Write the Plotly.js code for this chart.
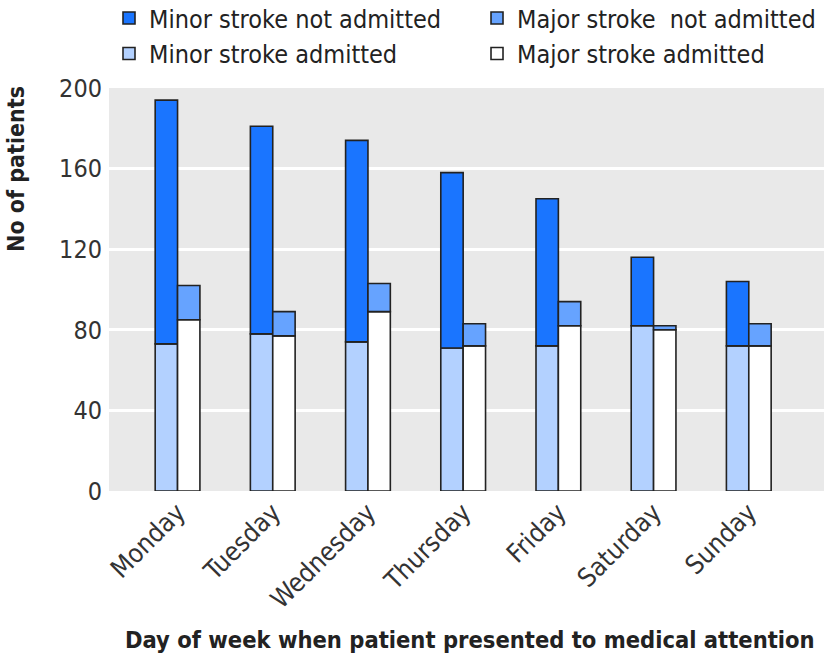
<!DOCTYPE html>
<html>
<head>
<meta charset="utf-8">
<script src="https://cdn.plot.ly/plotly-3.0.1.min.js"></script>
<style>html,body{margin:0;padding:0;background:#fff;}#chart{width:824px;height:660px;}</style>
</head>
<body>
<div id="chart"></div>
<script>
var days = ["Monday", "Tuesday", "Wednesday", "Thursday", "Friday", "Saturday", "Sunday"];
var minorAdmitted = [73, 78, 74, 71, 72, 82, 72];
var minorNotAdmitted = [121, 103, 100, 87, 73, 34, 32];
var majorAdmitted = [85, 77, 89, 72, 82, 80, 72];
var majorNotAdmitted = [17, 12, 14, 11, 12, 2, 11];
var yTicks = [0, 40, 80, 120, 160, 200];

var FONT = "'DejaVu Sans Condensed', 'Liberation Sans Narrow', 'Roboto Condensed', sans-serif";
var line = {color: "#222222", width: 1.6};

var traces = [
  {type: "bar", name: "Minor stroke admitted", x: days, y: minorAdmitted, offsetgroup: "minor",
   marker: {color: "#b3d1ff", line: line}, legend: "legend", legendrank: 2},
  {type: "bar", name: "Minor stroke not admitted", x: days, y: minorNotAdmitted, base: minorAdmitted, offsetgroup: "minor",
   marker: {color: "#1a75ff", line: line}, legend: "legend", legendrank: 1},
  {type: "bar", name: "Major stroke admitted", x: days, y: majorAdmitted, offsetgroup: "major",
   marker: {color: "#ffffff", line: line}, legend: "legend2", legendrank: 2},
  {type: "bar", name: "Major stroke  not admitted", x: days, y: majorNotAdmitted, base: majorAdmitted, offsetgroup: "major",
   marker: {color: "#66a3ff", line: line}, legend: "legend2", legendrank: 1}
];

var legendFont = {family: FONT, size: 25, color: "#222222"};

var layout = {
  width: 824, height: 660,
  margin: {l: 109, r: 0, t: 88, b: 169, autoexpand: false},
  paper_bgcolor: "#ffffff",
  plot_bgcolor: "#e9e9e9",
  font: {family: FONT, color: "#333333", size: 22},
  barmode: "group",
  bargap: 0.53,
  bargroupgap: 0,
  showlegend: true,
  legend: {
    orientation: "v", x: 0, xanchor: "left", y: 1.23, yanchor: "top",
    font: legendFont, bgcolor: "rgba(0,0,0,0)", traceorder: "normal"
  },
  legend2: {
    orientation: "v", x: 0.5147, xanchor: "left", y: 1.23, yanchor: "top",
    font: legendFont, bgcolor: "rgba(0,0,0,0)", traceorder: "normal"
  },
  xaxis: {
    range: [-0.72, 6.79], tickangle: -45, showgrid: false, zeroline: false, showline: false,
    ticks: "", tickfont: {family: FONT, size: 26, color: "#333333"}, fixedrange: true
  },
  yaxis: {
    range: [0, 200], tickvals: yTicks, ticktext: yTicks.map(String),
    showgrid: true, gridcolor: "#ffffff", gridwidth: 3, zeroline: false, showline: false,
    ticks: "", ticklabelstandoff: 6, tickfont: {family: FONT, size: 25, color: "#333333"}, fixedrange: true
  },
  annotations: [
    {text: "<b>No of patients</b>", xref: "paper", yref: "paper", x: -0.131, y: 0.80,
     xanchor: "center", yanchor: "middle", textangle: -90, showarrow: false,
     font: {family: FONT, size: 23, color: "#222222"}},
    {text: "<b>Day of week when patient presented to medical attention</b>", xref: "paper", yref: "paper",
     x: 0.505, y: -0.37, xanchor: "center", yanchor: "middle", showarrow: false,
     font: {family: FONT, size: 23.5, color: "#222222"}}
  ]
};

Plotly.newPlot("chart", traces, layout, {displayModeBar: false, staticPlot: true});
</script>
</body>
</html>
